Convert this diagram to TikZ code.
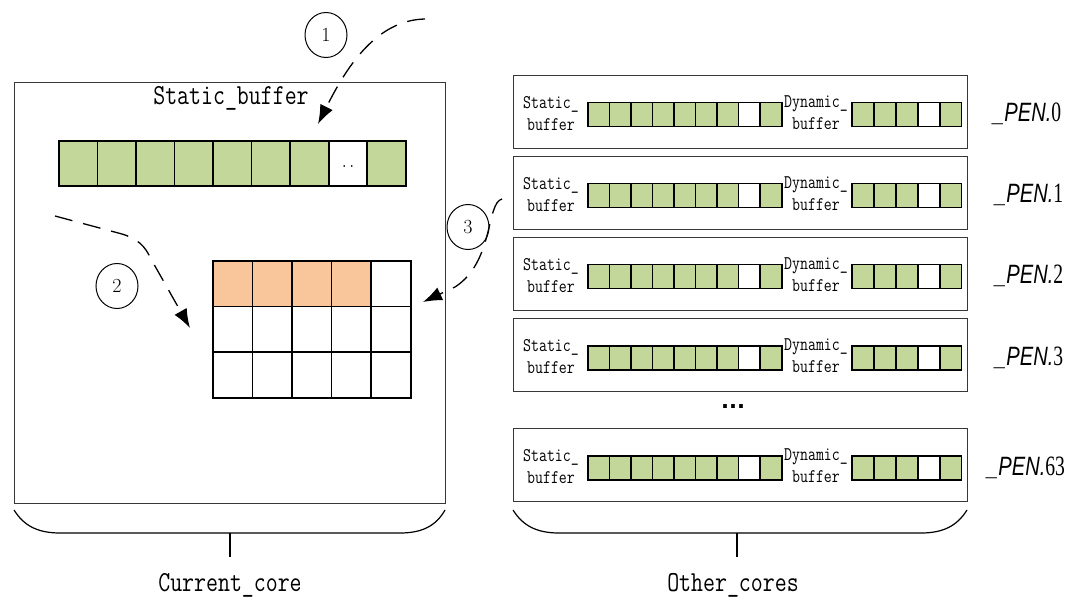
\documentclass[tikz,border=0pt]{standalone}
\usepackage{fontspec}
\usetikzlibrary{arrows.meta,shapes.geometric}
\newfontfamily\condmono[FakeStretch=0.8]{Latin Modern Mono}
\newfontfamily\narrowsf[FakeStretch=0.76]{Liberation Sans}
\newfontfamily\narrowserif[FakeStretch=0.7]{Liberation Serif}
\newfontfamily\dotsfont{DejaVu Sans}
\definecolor{cellgreen}{RGB}{196,215,155}
\definecolor{cellorange}{RGB}{248,198,154}
\definecolor{framegray}{RGB}{55,55,55}

\begin{document}
\begin{tikzpicture}[x=1pt,y=-1pt,
  frame/.style={draw=framegray,line width=1.4pt,fill=white,inner sep=0pt,anchor=north west},
  bigcell/.style={draw=black,line width=1.6pt,inner sep=0pt,anchor=north west,
    minimum width=38.6pt,minimum height=45.5pt},
  gridcell/.style={draw=black,line width=1.6pt,inner sep=0pt,anchor=north west,
    minimum width=39.6pt,minimum height=45.7pt},
  smallcell/.style={draw=black,line width=1.5pt,inner sep=0pt,anchor=north west,
    minimum width=21.6pt,minimum height=24pt},
  bigtext/.style={font=\condmono\fontsize{29}{31}\selectfont,inner sep=0pt},
  smalltext/.style={font=\condmono\fontsize{19.3}{22}\selectfont,align=center,inner sep=0pt},
  numcirc/.style={ellipse,draw=black,line width=1pt,minimum width=42pt,minimum height=45pt,
    inner sep=0pt,font=\fontsize{20}{20}\selectfont},
  flow/.style={draw=black,line width=1.3pt,dash pattern=on 18pt off 11pt,
    -{Latex[length=19pt,width=14pt]}},
  brace/.style={draw=black,line width=1.2pt},
  penlabel/.style={inner sep=0pt,anchor=base west},
]
\path[use as bounding box,fill=white] (0,0) rectangle (1086,601);

% ---------- current core ----------
\node[frame,minimum width=431pt,minimum height=421pt] (cur) at (14,82) {};
\node[bigtext] (sbtitle) at (231,98) {Static\_buffer};

% static buffer row
\foreach \c [count=\i from 0] in {cellgreen,cellgreen,cellgreen,cellgreen,cellgreen,cellgreen,cellgreen,white,cellgreen}
  \node[bigcell,fill=\c] (sb\i) at (58+\i*38.56,140) {};
\node[font=\condmono\fontsize{18}{18}\selectfont,inner sep=0pt] (sbdots) at (348,166) {..};

% receive grid
\foreach \r in {0,1,2} {
  \foreach \j in {0,...,4} {
    \pgfmathsetmacro{\gfill}{(\r==0 && \j<4) ? "cellorange" : "white"}
    \node[gridcell,fill=\gfill] (g\r\j) at (212+\j*39.6,260+\r*45.7) {};
  }
}

% step markers
\node[numcirc] (n1) at (326,35) {1};
\node[numcirc] (n2) at (117,286) {2};
\node[numcirc] (n3) at (468,227) {3};

% data movements
\coordinate (a1s) at (425,19);
\coordinate (a1e) at (318,124);
\draw[flow] (a1s) .. controls (375,20) and (345,70) .. (a1e);

\coordinate (a2s) at (55,216);
\coordinate (a2e) at (190,328);
\draw[flow] (a2s) -- (122,234) .. controls (138,239) and (145,246) .. (151,259) -- (a2e);

\coordinate (a3s) at (502,199);
\coordinate (a3e) at (423,302);
\draw[flow] (a3s) .. controls (486,203) and (494,262) .. (455,287) -- (a3e);

% ---------- other cores ----------
\foreach \top/\k/\lx [count=\r] in {75/0/993,156/1/995,237/2/995,318/3/995,428/63/987} {
  \node[frame,minimum width=454pt,minimum height=73pt] (core\r) at (513,\top) {};
  \node[smalltext] (sl\r) at (551,\top+39) {Static\_\\buffer};
  \node[smalltext] (dl\r) at (816,\top+38) {Dynamic\_\\buffer};
  \foreach \c [count=\j from 0] in {cellgreen,cellgreen,cellgreen,cellgreen,cellgreen,cellgreen,cellgreen,white,cellgreen}
    \node[smallcell,fill=\c] (ss\r-\j) at (587+\j*21.56,\top+27) {};
  \foreach \c [count=\j from 0] in {cellgreen,cellgreen,cellgreen,white,cellgreen}
    \node[smallcell,fill=\c] (ds\r-\j) at (851+\j*22,\top+27) {};
  \node[penlabel] (pen\r) at (\lx,\top+47)
    {{\narrowsf\itshape\fontsize{26.5}{28}\selectfont\_PEN.}{\narrowserif\fontsize{28}{30}\selectfont\k}};
}
\node[font=\dotsfont\bfseries\fontsize{21}{21}\selectfont,inner sep=0pt] (more) at (733,407) {...};

% ---------- group brackets ----------
\draw[brace] (14,510) .. controls (24,526) and (38,533) .. (60,533) -- (400,533)
  .. controls (422,533) and (436,526) .. (445,510);
\coordinate (curtick) at (230,533);
\coordinate (curtickend) at (230,557);
\draw[brace] (curtick) -- (curtickend);
\node[bigtext] (curlab) at (230,585) {Current\_core};

\draw[brace] (513,510) .. controls (523,526) and (537,533) .. (559,533) -- (921,533)
  .. controls (943,533) and (957,526) .. (967,510);
\coordinate (othtick) at (737,533);
\coordinate (othtickend) at (737,557);
\draw[brace] (othtick) -- (othtickend);
\node[bigtext] (othlab) at (733,585) {Other\_cores};
\end{tikzpicture}
\end{document}
